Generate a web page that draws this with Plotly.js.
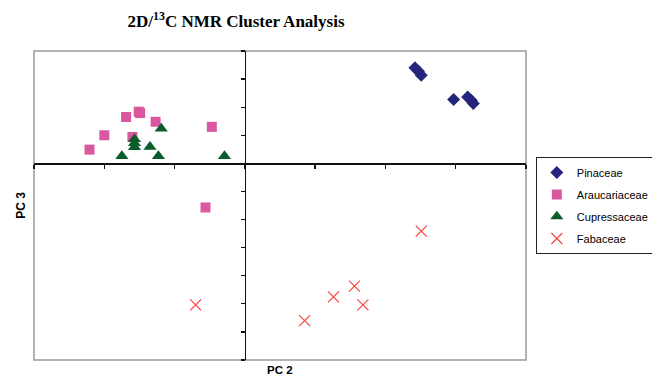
<!DOCTYPE html>
<html>
<head>
<meta charset="utf-8">
<script src="https://cdn.plot.ly/plotly-3.0.1.min.js"></script>
<style>html,body{margin:0;padding:0;background:#fff;}#chart{width:652px;height:377px;}</style>
</head>
<body>
<div id="chart"></div>
<script>
// Data (PC 2 on x, PC 3 on y)
const seriesNames = ["Pinaceae", "Araucariaceae", "Cupressaceae", "Fabaceae"];
const pinaceaeX = [2.42, 2.47, 2.51, 2.97, 3.17, 3.22, 3.25];
const pinaceaeY = [3.40, 3.28, 3.14, 2.27, 2.36, 2.25, 2.13];
const araucariaceaeX = [-2.21, -2.00, -1.69, -1.51, -1.49, -1.60, -1.27, -0.47, -0.56];
const araucariaceaeY = [0.49, 1.00, 1.65, 1.84, 1.79, 0.94, 1.48, 1.30, -1.57];
const cupressaceaeX = [-1.75, -1.57, -1.57, -1.57, -1.35, -1.19, -1.23, -0.29];
const cupressaceaeY = [0.26, 0.86, 0.72, 0.58, 0.59, 1.24, 0.26, 0.26];
const fabaceaeX = [-0.70, 0.85, 1.26, 1.56, 1.68, 2.51];
const fabaceaeY = [-5.04, -5.60, -4.75, -4.37, -5.04, -2.41];
const xRange = [-3, 4];
const yRange = [-7, 4];

const traces = [
  {x: pinaceaeX, y: pinaceaeY, name: seriesNames[0], type: "scatter", mode: "markers", legendgroup: "a",
   marker: {symbol: "diamond", size: 10, color: "#25257d"}},
  {x: araucariaceaeX, y: araucariaceaeY, name: seriesNames[1], type: "scatter", mode: "markers", legendgroup: "b",
   marker: {symbol: "square", size: 10, color: "#d9589f"}},
  {x: cupressaceaeX, y: cupressaceaeY, name: seriesNames[2], type: "scatter", mode: "markers", legendgroup: "c",
   marker: {symbol: "triangle-up", size: 11.5, color: "#0b5d2b"}},
  {x: fabaceaeX, y: fabaceaeY, name: seriesNames[3], type: "scatter", mode: "markers", legendgroup: "d",
   marker: {symbol: "x-thin-open", size: 11, color: "#ff4040", line: {color: "#ff4040", width: 1.2}}}
];

const yZeroFrac = (0 - yRange[0]) / (yRange[1] - yRange[0]);
const xZeroFrac = (0 - xRange[0]) / (xRange[1] - xRange[0]);

const layout = {
  width: 652, height: 377,
  margin: {l: 34, r: 126, t: 51, b: 17, pad: 0, autoexpand: false},
  paper_bgcolor: "#fff", plot_bgcolor: "#fff",
  showlegend: true,
  font: {family: "Liberation Sans, Arial, sans-serif", color: "#000"},
  title: {text: "2D/<sup>13</sup>C NMR Cluster Analysis", xref: "container", yref: "container",
          x: 0.362, y: 0.945, xanchor: "center", yanchor: "middle",
          font: {family: "Liberation Serif, Times New Roman, serif", size: 17, weight: "bold", color: "#000"}},
  xaxis: {range: xRange, dtick: 1, tick0: 0, showgrid: false, zeroline: false, showticklabels: false,
          showline: true, linecolor: "#111", linewidth: 1.5, ticks: "outside", ticklen: 4, tickwidth: 1.3, tickcolor: "#111",
          anchor: "free", position: yZeroFrac, fixedrange: true},
  yaxis: {range: yRange, dtick: 1, tick0: 0, showgrid: false, zeroline: false, showticklabels: false,
          showline: true, linecolor: "#111", linewidth: 1.5, ticks: "outside", ticklen: 4, tickwidth: 1.3, tickcolor: "#111",
          anchor: "free", position: xZeroFrac, side: "left", fixedrange: true},
  shapes: [
    {type: "rect", xref: "paper", yref: "paper", x0: 0, x1: 1, y0: 0, y1: 1,
     line: {color: "#9a9a9a", width: 1.5}, layer: "below"}
  ],
  annotations: [
    {text: "<b>PC 2</b>", xref: "paper", yref: "paper", x: 0.5, y: -0.0065, xanchor: "center", yanchor: "top",
     showarrow: false, font: {size: 11.5, family: "Liberation Sans, Arial, sans-serif"}},
    {text: "<b>PC 3</b>", xref: "paper", yref: "paper", x: -0.028, y: 0.5, xanchor: "center", yanchor: "middle",
     textangle: -90, showarrow: false, font: {size: 12, family: "Liberation Sans, Arial, sans-serif"}}
  ],
  legend: {x: 1.02, y: 0.657, xanchor: "left", yanchor: "top", traceorder: "grouped", tracegroupgap: 3,
           bordercolor: "#222", borderwidth: 1, bgcolor: "#fff", itemwidth: 30,
           font: {size: 11, family: "Liberation Sans, Arial, sans-serif", color: "#000"}}
};

Plotly.newPlot("chart", traces, layout, {displayModeBar: false, staticPlot: true});
</script>
</body>
</html>
